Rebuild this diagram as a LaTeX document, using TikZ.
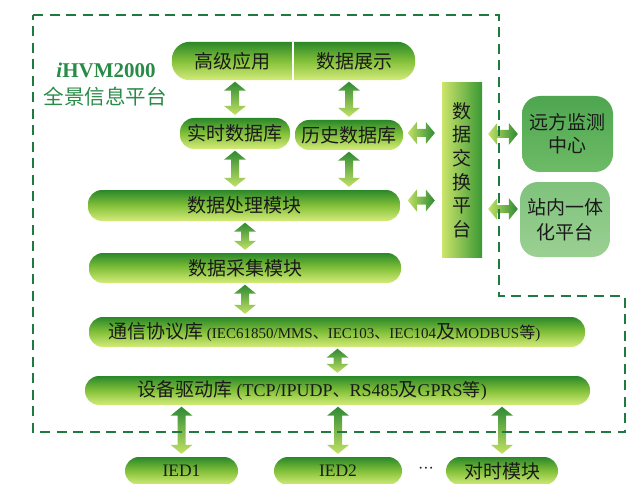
\documentclass[tikz,border=0pt]{standalone}
\usepackage{fontspec}
\setmainfont{Liberation Serif}
\newfontfamily\cjk{Noto Sans CJK SC}
\usetikzlibrary{calc}
\pgfdeclarelayer{bg}
\pgfsetlayers{bg,main}
\definecolor{gdark}{HTML}{2A8829}
\definecolor{gmid}{HTML}{84C13A}
\definecolor{glight}{HTML}{D4EB7A}
\definecolor{adark}{HTML}{2E8A33}
\definecolor{alight}{HTML}{C2E164}
\definecolor{elight}{HTML}{CCE56C}
\definecolor{edark}{HTML}{3A9834}
\definecolor{dashg}{HTML}{1E7A3E}
\definecolor{titleg}{HTML}{2A8A48}
\definecolor{remtop}{HTML}{4FA650}
\definecolor{rembot}{HTML}{6DBB66}
\definecolor{loctop}{HTML}{7FC27C}
\definecolor{locbot}{HTML}{9BD093}
\definecolor{txt}{HTML}{1A1A1A}
\newcommand\varrow[2]{%
  \path[top color=adark, bottom color=alight]
    let \p1=($#1+(0pt,-1.5pt)$), \p2=($#2+(0pt,3pt)$) in
    (\x1,\y1) -- (\x1+11pt,\y1-9pt) -- (\x1+4pt,\y1-9pt) -- (\x1+4pt,\y2+9pt)
    -- (\x1+11pt,\y2+9pt) -- (\x1,\y2) -- (\x1-11pt,\y2+9pt) -- (\x1-4pt,\y2+9pt)
    -- (\x1-4pt,\y1-9pt) -- (\x1-11pt,\y1-9pt) -- cycle;}
\newcommand\harrow[2]{%
  \path[left color=alight, right color=adark]
    let \p1=#1, \p2=#2 in
    (\x1,\y1) -- (\x1+9pt,\y1+11pt) -- (\x1+9pt,\y1+4pt) -- (\x2-9pt,\y1+4pt)
    -- (\x2-9pt,\y1+11pt) -- (\x2,\y1) -- (\x2-9pt,\y1-11pt) -- (\x2-9pt,\y1-4pt)
    -- (\x1+9pt,\y1-4pt) -- (\x1+9pt,\y1-11pt) -- cycle;}
\newcommand\cjkc[2]{{\cjk\fontsize{#1}{#1}\selectfont #2}}
\tikzset{
  pill/.style={rounded corners=14pt, top color=gdark, bottom color=glight,
    middle color=gmid, inner sep=0pt, text=txt,
    font=\cjk\fontsize{19}{21}\selectfont},
  plain/.style={inner sep=0pt, text=txt, font=\cjk\fontsize{19}{21}\selectfont},
  rbox/.style={rounded corners=18pt, inner sep=0pt, text=txt, align=center,
    font=\cjk\fontsize{19}{23}\selectfont}
}
\begin{document}
\begin{tikzpicture}[x=1pt,y=-1pt]
\useasboundingbox (0,0) rectangle (632,484);

% title
\node[inner sep=0pt, text=titleg, font=\bfseries\fontsize{21}{24}\selectfont] (ttl) at (106,70) {\textit{i}HVM2000};
\node[inner sep=0pt, text=titleg, font=\cjk\fontsize{20.5}{24}\selectfont] (ttl2) at (105,97) {全景信息平台};

% top bar
\node[plain, minimum width=121pt, minimum height=38pt] (app) at (232.5,61) {高级应用};
\node[plain, minimum width=122pt, minimum height=38pt] (disp) at (354,61) {数据展示};
\begin{pgfonlayer}{bg}
\path[top color=gdark, bottom color=glight, middle color=gmid, rounded corners=18pt]
  (app.south west) rectangle (disp.north east);
\draw[white, line width=1.5pt] (app.north east) -- (app.south east);
\end{pgfonlayer}

% databases
\node[pill, minimum width=110pt, minimum height=31pt] (rt) at (235,133.5) {实时数据库};
\node[pill, minimum width=108pt, minimum height=30pt] (hist) at (349,135) {历史数据库};

% modules
\node[pill, minimum width=312pt, minimum height=31pt] (proc) at (244,205.5) {数据处理模块};
\node[pill, minimum width=312pt, minimum height=30pt] (acq) at (245,268) {数据采集模块};
\node[pill, minimum width=496pt, minimum height=30pt] (comm) at (337,332) {};
\node[plain, anchor=west] (commtxt) at (108,332) {通信协议库\fontspec{Liberation Serif}\fontsize{15}{17}\selectfont{} (IEC61850/MMS\cjkc{15}{、}IEC103\cjkc{15}{、}IEC104\cjkc{19}{及}MODBUS\cjkc{16}{等})};
\node[pill, minimum width=505pt, minimum height=29pt] (dev) at (337.5,390.5) {};
\node[plain, anchor=west] (devtxt) at (137,390.5) {设备驱动库\fontspec{Liberation Serif}\fontsize{18}{20}\selectfont{} (TCP/IPUDP\cjkc{17}{、}RS485\cjkc{19}{及}GPRS\cjkc{18}{等})};

% exchange platform
\node[left color=elight, right color=edark, minimum width=40pt, minimum height=174pt,
  inner sep=0pt, text=txt, align=center, font=\cjk\fontsize{19}{23.6}\selectfont]
  (exch) at (462,170) {数\\据\\交\\换\\平\\台};

% external boxes
\node[rbox, top color=remtop, bottom color=rembot, minimum width=91pt, minimum height=76pt] (remote) at (567.5,134) {远方监测\\中心};
\node[rbox, top color=loctop, bottom color=locbot, minimum width=90pt, minimum height=75pt,
  font=\cjk\fontsize{19}{25}\selectfont] (local) at (565,219.5) {站内一体\\化平台};

% bottom devices
\node[pill, font=\fontsize{17.5}{19}\selectfont, minimum width=113pt, minimum height=28pt] (ied1) at (181.5,471) {IED1};
\node[pill, font=\fontsize{17.5}{19}\selectfont, minimum width=128pt, minimum height=28pt] (ied2) at (338,471) {IED2};
\node[inner sep=0pt, text=txt, font=\fontsize{16}{18}\selectfont] (dots) at (426,470) {···};
\node[pill, minimum width=112pt, minimum height=28pt] (sync) at (502,471) {对时模块};

% vertical arrows
\varrow{(app.south -| rt.north)}{(rt.north)}
\varrow{(rt.south)}{(proc.north -| rt.south)}
\varrow{(disp.south -| hist.north)}{(hist.north)}
\varrow{(hist.south)}{(proc.north -| hist.south)}
\varrow{(proc.south -| acq.north)}{(acq.north)}
\varrow{(acq.south)}{(comm.north -| acq.south)}
\varrow{(comm.south -| dev.north)}{(dev.north)}
\varrow{(dev.south -| ied1.north)}{(ied1.north)}
\varrow{(dev.south -| ied2.north)}{(ied2.north)}
\varrow{(dev.south -| sync.north)}{(sync.north)}

% horizontal arrows
\harrow{($(exch.west |- hist.east)+(-34pt,2pt)$)}{($(exch.west |- hist.east)+(-7pt,2pt)$)}
\harrow{($(exch.west |- proc.east)+(-34pt,5pt)$)}{($(exch.west |- proc.east)+(-7pt,5pt)$)}
\harrow{($(exch.east |- remote.west)+(6pt,0pt)$)}{($(remote.west)+(-4pt,0pt)$)}
\harrow{($(exch.east |- local.west)+(6pt,10.5pt)$)}{($(local.west)+(-2pt,10.5pt)$)}

% dashed boundary
\draw[dashg, line width=2.6pt, dash pattern=on 10pt off 6.5pt]
  (33,15) -- (499,15) -- (499,296) -- (625,296) -- (625,432) -- (33,432) -- cycle;
\end{tikzpicture}
\end{document}
